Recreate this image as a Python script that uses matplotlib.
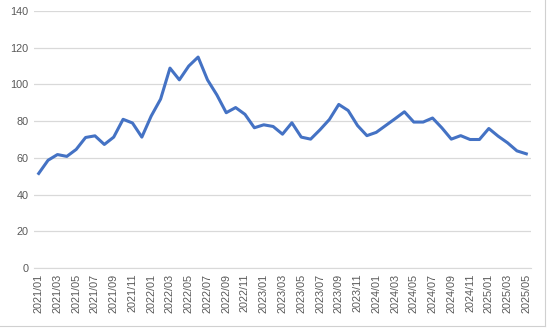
import matplotlib.pyplot as plt
from matplotlib.lines import Line2D

# monthly values, 2021/01 .. 2025/05
months = [f"{y}/{m:02d}" for y in range(2021, 2026) for m in range(1, 13)][:53]
values = [51.5, 58.7, 61.8, 60.8, 64.6, 71.1, 72.0, 67.3, 71.3, 81.0, 79.0, 71.3,
          82.8, 92.0, 108.9, 102.5, 110.0, 114.9, 102.5, 94.3, 84.6, 87.4, 83.7, 76.4,
          78.0, 77.1, 72.9, 79.1, 71.3, 70.2, 75.3, 80.9, 89.1, 85.8, 77.6, 72.1,
          73.9, 77.6, 81.3, 85.1, 79.5, 79.5, 81.7, 76.3, 70.2, 72.1, 70.0, 70.0,
          76.0, 71.8, 68.2, 63.8, 62.2]
yticks = [0, 20, 40, 60, 80, 100, 120, 140]

plt.rcParams['font.family'] = ['Liberation Sans', 'DejaVu Sans']

fig = plt.figure(figsize=(5.47, 3.28), dpi=100)
ax = fig.add_axes([34/547, 1 - 268/328, (531-34)/547, (268-11)/328])

x = list(range(len(months)))
ax.plot(x, values, color='#4472C4', linewidth=2.2, solid_joinstyle='round')

ax.set_xlim(-0.5, len(months) - 0.5)
ax.set_ylim(0, 140)
ax.set_yticks(yticks)
ax.set_xticks(x[::2])
ax.set_xticklabels(months[::2], rotation=90)
ax.grid(axis='y', color='#D9D9D9', linewidth=0.9)
ax.set_axisbelow(True)
for s in ['top', 'right', 'left']:
    ax.spines[s].set_visible(False)
ax.spines['bottom'].set_color('#D9D9D9')
ax.tick_params(axis='both', length=0, labelsize=7.8, labelcolor='#595959', pad=4)

# spreadsheet cell border behind the chart
fig.add_artist(Line2D([0, 545/547], [1 - 326/328] * 2, color='#D0D0D0', linewidth=0.8))
fig.add_artist(Line2D([545/547] * 2, [1 - 326/328, 1], color='#D0D0D0', linewidth=0.8))

fig.savefig('out.png', dpi=100)
